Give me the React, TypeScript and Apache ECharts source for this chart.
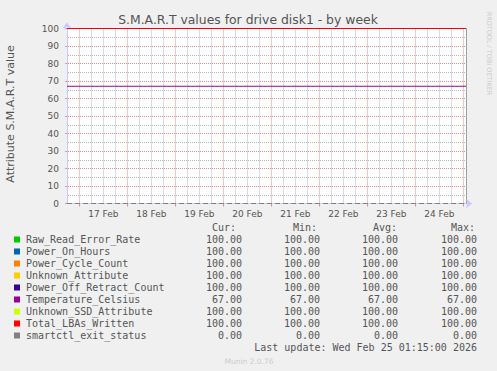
import React, { useEffect, useRef } from 'react';
import * as echarts from 'echarts';

const seriesNames = [
  'Raw_Read_Error_Rate',
  'Power_On_Hours',
  'Power_Cycle_Count',
  'Unknown_Attribute',
  'Power_Off_Retract_Count',
  'Temperature_Celsius',
  'Unknown_SSD_Attribute',
  'Total_LBAs_Written',
  'smartctl_exit_status',
];
const seriesColors = ['#00cc00', '#0066b3', '#ff8000', '#ffcc00', '#330099', '#990099', '#ccff00', '#ff0000', '#808080'];
const curValues = [100, 100, 100, 100, 100, 67, 100, 100, 0];
const minValues = [100, 100, 100, 100, 100, 67, 100, 100, 0];
const avgValues = [100, 100, 100, 100, 100, 67, 100, 100, 0];
const maxValues = [100, 100, 100, 100, 100, 67, 100, 100, 0];
const dayLabels = ['17 Feb', '18 Feb', '19 Feb', '20 Feb', '21 Feb', '22 Feb', '23 Feb', '24 Feb'];
const yTickValues = [0, 10, 20, 30, 40, 50, 60, 70, 80, 90, 100];
const yMinorValues = [5, 15, 25, 35, 45, 55, 65, 75, 85, 95];
const firstLabelDay = 17;
const lastUpdate = 'Last update: Wed Feb 25 01:15:00 2026';

const startTime = new Date(2026, 1, 16, 17, 51).getTime();
const endTime = new Date(2026, 1, 25, 1, 21).getTime();

export default function App() {
  const ref = useRef<HTMLDivElement>(null);
  useEffect(() => {
    document.body.style.margin = '0';
    document.body.style.background = '#f0f0f0';
    const chart = echarts.init(ref.current!, null, { renderer: 'svg' });

    const midnights: number[] = [];
    for (let d = 16; d <= 26; d++) {
      const t = new Date(2026, 1, d).getTime();
      if (t > startTime && t < endTime) midnights.push(t);
    }
    const noons = dayLabels.map((_, i) => new Date(2026, 1, firstLabelDay + i, 12).getTime());
    const sixHours: number[] = [];
    for (let d = 16; d <= 26; d++) {
      for (const h of [6, 12, 18]) {
        const t = new Date(2026, 1, d, h).getTime();
        if (t > startTime && t < endTime) sixHours.push(t);
      }
    }

    const font = 'DejaVu Sans';
    const mono = 'DejaVu Sans Mono';
    const txt = '#555555';
    const rowY0 = 239.5;
    const rowH = 12;
    const major = '#dc8e8e';
    const minor = '#b8b8b8';

    const graphics: any[] = [
      {
        type: 'text', x: 248, y: 19,
        style: { text: 'S.M.A.R.T values for drive disk1 - by week', font: `12.4px "${font}"`, fill: txt, align: 'center', verticalAlign: 'middle' },
      },
      {
        type: 'text', x: 10, y: 114, rotation: Math.PI / 2,
        style: { text: 'Attribute S.M.A.R.T value', font: `11px "${font}"`, fill: txt, align: 'center', verticalAlign: 'middle' },
      },
      {
        type: 'text', x: 488.5, y: 53.5, rotation: -Math.PI / 2,
        style: { text: 'RRDTOOL / TOBI OETIKER', font: `6.5px "${font}"`, fill: '#cccccc', align: 'center', verticalAlign: 'middle' },
      },
      {
        type: 'text', x: 249, y: 361,
        style: { text: 'Munin 2.0.76', font: `7.5px "${font}"`, fill: '#cccccc', align: 'center', verticalAlign: 'middle' },
      },
      { type: 'text', x: 236, y: 227.5, style: { text: 'Cur:', font: `10px "${mono}"`, fill: txt, align: 'right', verticalAlign: 'middle' } },
      { type: 'text', x: 317, y: 227.5, style: { text: 'Min:', font: `10px "${mono}"`, fill: txt, align: 'right', verticalAlign: 'middle' } },
      { type: 'text', x: 397, y: 227.5, style: { text: 'Avg:', font: `10px "${mono}"`, fill: txt, align: 'right', verticalAlign: 'middle' } },
      { type: 'text', x: 475, y: 227.5, style: { text: 'Max:', font: `10px "${mono}"`, fill: txt, align: 'right', verticalAlign: 'middle' } },
      { type: 'text', x: 477, y: 347.5, style: { text: lastUpdate, font: `10px "${mono}"`, fill: txt, align: 'right', verticalAlign: 'middle' } },
    ];
    seriesNames.forEach((name, i) => {
      const y = rowY0 + i * rowH;
      graphics.push({ type: 'rect', shape: { x: 14, y: y - 3, width: 6, height: 6 }, style: { fill: seriesColors[i] } });
      graphics.push({ type: 'text', x: 26, y, style: { text: name, font: `10px "${mono}"`, fill: txt, align: 'left', verticalAlign: 'middle' } });
      const cols: [number[], number][] = [[curValues, 242], [minValues, 320], [avgValues, 398], [maxValues, 477]];
      cols.forEach(([arr, x]) => {
        graphics.push({ type: 'text', x, y, style: { text: arr[i].toFixed(2), font: `10px "${mono}"`, fill: txt, align: 'right', verticalAlign: 'middle' } });
      });
    });

    const dotted = (color: string, offset: number) => ({ show: true, lineStyle: { color, type: [1, 1], dashOffset: offset, width: 1 } });

    const option: any = {
      animation: false,
      backgroundColor: '#f0f0f0',
      textStyle: { fontFamily: font },
      grid: { left: 67, right: 31, top: 28.5, bottom: 167.5, show: true, backgroundColor: '#ffffff', borderWidth: 0 },
      xAxis: [
        {
          type: 'value', min: startTime, max: endTime, position: 'bottom', z: 3,
          axisLine: { show: true, lineStyle: { color: '#c8c8ff', width: 1 }, symbol: ['none', 'arrow'], symbolSize: [7, 6], symbolOffset: [0, 6] },
          axisTick: { show: true, customValues: midnights, length: 3, lineStyle: { color: '#e89090' } },
          axisLabel: {
            customValues: noons, margin: 6, color: txt, fontSize: 9, fontFamily: font,
            formatter: (v: number) => {
              const d = new Date(v);
              return dayLabels[d.getDate() - firstLabelDay] ?? '';
            },
          },
          splitLine: dotted(major, 0),
        },
        {
          type: 'value', min: startTime, max: endTime, position: 'bottom', z: 2,
          axisLine: { show: false }, axisLabel: { show: false },
          axisTick: { show: false, customValues: sixHours },
          splitLine: dotted(minor, 0),
        },
      ],
      yAxis: [
        {
          type: 'value', min: 0, max: 100, interval: 10, position: 'left', z: 3,
          axisLine: { show: true, lineStyle: { color: '#c8c8ff', width: 1 }, symbol: ['none', 'arrow'], symbolSize: [7, 6], symbolOffset: [0, 6] },
          axisTick: { show: true, length: 2, customValues: yTickValues, lineStyle: { color: '#e89090' } },
          axisLabel: { color: txt, fontSize: 9, fontFamily: font, margin: 8, customValues: yTickValues },
          splitLine: dotted(major, 1),
        },
        {
          type: 'value', min: 0, max: 100, position: 'right', z: 2,
          axisLine: { show: true, lineStyle: { color: '#a0a0a0', width: 1 } },
          axisTick: { show: false, customValues: yMinorValues },
          axisLabel: { show: false },
          splitLine: dotted(minor, 1),
        },
      ],
      series: seriesNames.map((name, i) => ({
        name,
        type: 'line',
        xAxisIndex: 0,
        yAxisIndex: 0,
        z: 5,
        showSymbol: false,
        symbol: 'none',
        color: seriesColors[i],
        lineStyle: { color: seriesColors[i], width: 1, type: name === 'smartctl_exit_status' ? [5, 3] : 'solid' },
        data: [[startTime, curValues[i]], [endTime, curValues[i]]],
      })),
      graphic: graphics,
    };
    chart.setOption(option);
    return () => chart.dispose();
  }, []);
  return <div ref={ref} style={{ position: 'absolute', left: 0, top: 0, width: 497, height: 371 }} />;
}
